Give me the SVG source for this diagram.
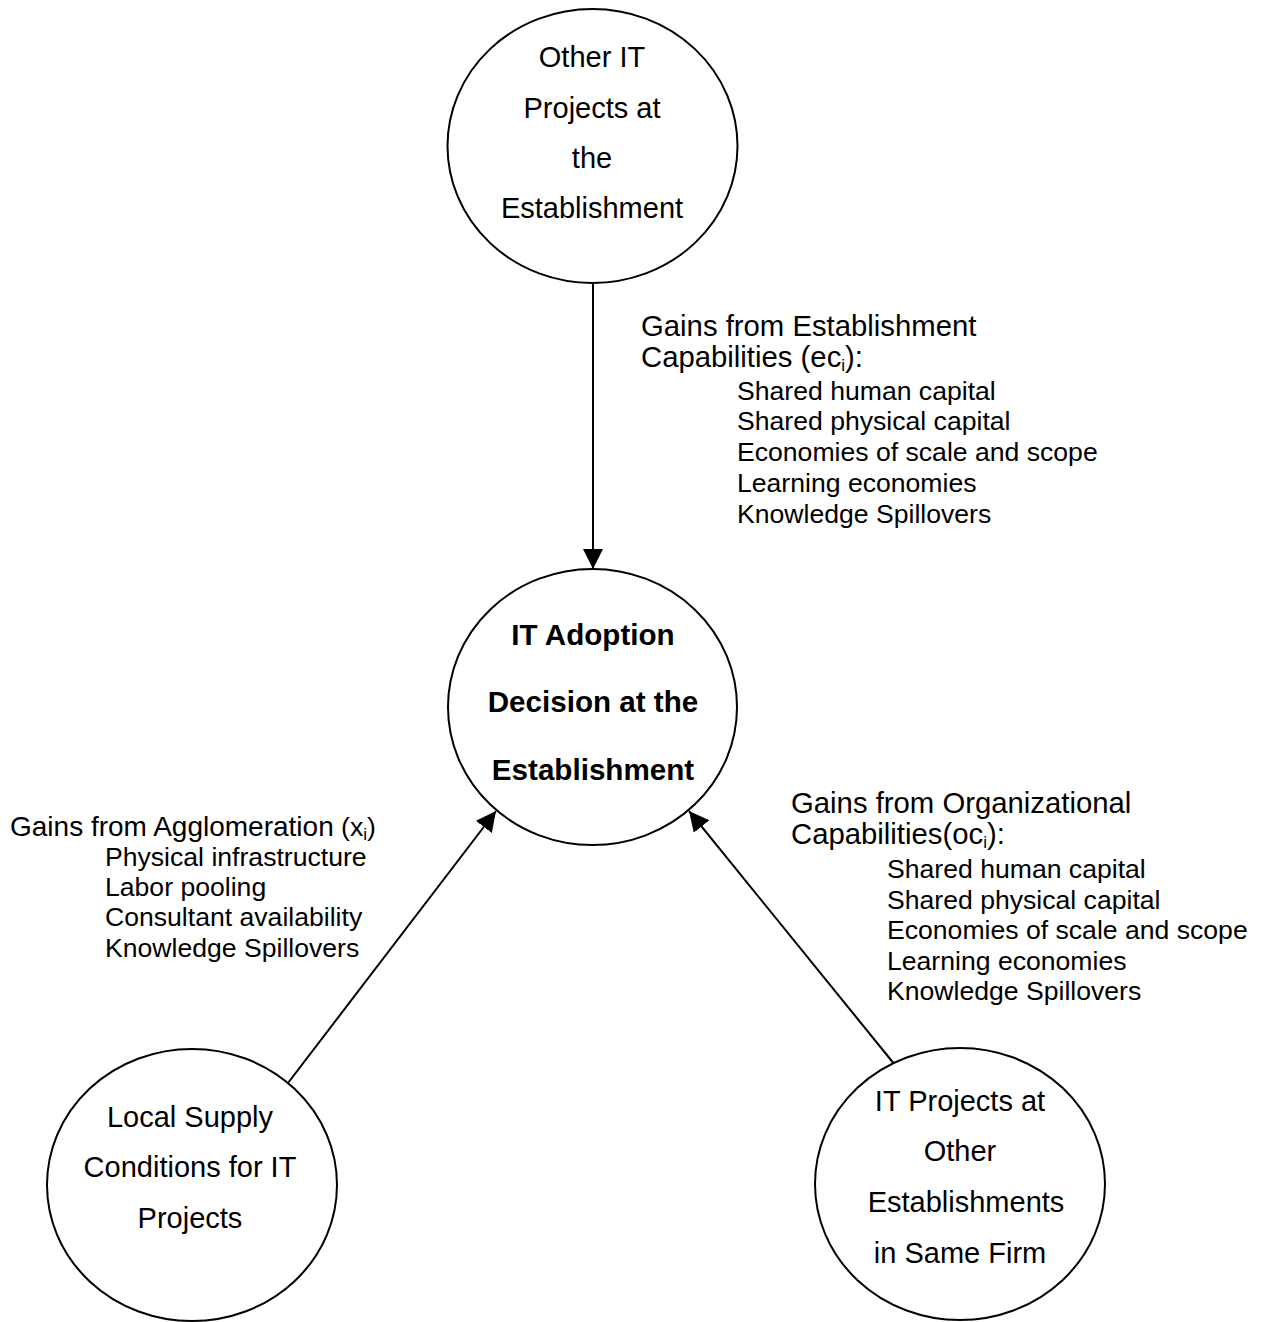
<svg xmlns="http://www.w3.org/2000/svg" width="1262" height="1322" viewBox="0 0 1262 1322">
<defs>
<marker id="ah" markerUnits="userSpaceOnUse" markerWidth="22" markerHeight="22" refX="20" refY="10" orient="auto">
<path d="M0,0 L20,10 L0,20 Z" fill="#000"/>
</marker>
<style>
.node{fill:#fff;stroke:#000;stroke-width:2}
.t{font-family:"Liberation Sans",Arial,sans-serif;font-size:29px;text-anchor:middle;fill:#000}
.b{font-weight:bold;font-size:29.6px}
.h{font-family:"Liberation Sans",Arial,sans-serif;font-size:29.3px;fill:#000}
.h2{font-size:28px}
.i{font-family:"Liberation Sans",Arial,sans-serif;font-size:26.6px;fill:#000}
.edge{stroke:#000;stroke-width:2;fill:none;marker-end:url(#ah)}
</style>
</defs>
<rect width="1262" height="1322" fill="#fff"/>
<g id="connectors">
<line class="edge" x1="593" y1="283" x2="593" y2="569"/>
<line class="edge" x1="288" y1="1083" x2="496" y2="811"/>
<line class="edge" x1="895" y1="1065" x2="689" y2="811"/>
</g>
<g id="node-other-it">
<ellipse class="node" cx="592.5" cy="146" rx="145" ry="137"/>
<text class="t" x="592" y="67">Other IT</text>
<text class="t" x="592" y="118">Projects at</text>
<text class="t" x="592" y="168">the</text>
<text class="t" x="592" y="218">Establishment</text>
</g>
<g id="node-adoption">
<ellipse class="node" cx="592.5" cy="707" rx="144.5" ry="138"/>
<text class="t b" x="593" y="645">IT Adoption</text>
<text class="t b" x="593" y="712">Decision at the</text>
<text class="t b" x="593" y="780">Establishment</text>
</g>
<g id="node-local">
<ellipse class="node" cx="192" cy="1185" rx="145" ry="136"/>
<text class="t" x="190" y="1127">Local Supply</text>
<text class="t" x="190" y="1177">Conditions for IT</text>
<text class="t" x="190" y="1228">Projects</text>
</g>
<g id="node-firm">
<ellipse class="node" cx="960" cy="1184" rx="145" ry="136"/>
<text class="t" x="960" y="1111">IT Projects at</text>
<text class="t" x="960" y="1161">Other</text>
<text class="t" x="966" y="1212">Establishments</text>
<text class="t" x="960" y="1263">in Same Firm</text>
</g>
<g id="label-establishment">
<text class="h" x="641" y="336">Gains from Establishment</text>
<text class="h" x="641" y="367">Capabilities (ec<tspan font-size="17" dy="4">i</tspan><tspan dy="-4">):</tspan></text>
<text class="i" x="737" y="400">Shared human capital</text>
<text class="i" x="737" y="430">Shared physical capital</text>
<text class="i" x="737" y="461">Economies of scale and scope</text>
<text class="i" x="737" y="492">Learning economies</text>
<text class="i" x="737" y="523">Knowledge Spillovers</text>
</g>
<g id="label-agglomeration">
<text class="h h2" x="10" y="836">Gains from Agglomeration<tspan font-size="26.6"> (x</tspan><tspan font-size="17" dy="4">i</tspan><tspan font-size="26.6" dy="-4">)</tspan></text>
<text class="i" x="105" y="866">Physical infrastructure</text>
<text class="i" x="105" y="896">Labor pooling</text>
<text class="i" x="105" y="926">Consultant availability</text>
<text class="i" x="105" y="957">Knowledge Spillovers</text>
</g>
<g id="label-organizational">
<text class="h" x="791" y="813">Gains from Organizational</text>
<text class="h" x="791" y="844">Capabilities(oc<tspan font-size="17" dy="4">i</tspan><tspan dy="-4">):</tspan></text>
<text class="i" x="887" y="878">Shared human capital</text>
<text class="i" x="887" y="909">Shared physical capital</text>
<text class="i" x="887" y="939">Economies of scale and scope</text>
<text class="i" x="887" y="970">Learning economies</text>
<text class="i" x="887" y="1000">Knowledge Spillovers</text>
</g>
</svg>
